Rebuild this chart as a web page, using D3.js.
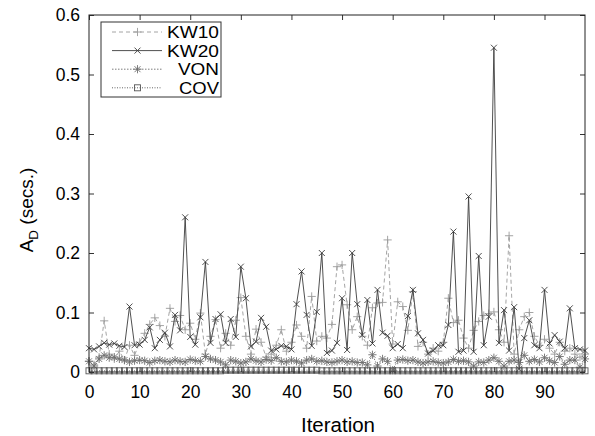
<!DOCTYPE html>
<html lang="en">
<head>
<meta charset="UTF-8">
<title>A_D per iteration</title>
<style>
  body { margin: 0; background: #fff; }
  text { font-family: "Liberation Sans", Arial, Helvetica, sans-serif; fill: #000; }
</style>
</head>
<body>
<script src="https://d3js.org/d3.v7.min.js"></script>
<script>
// values, one per iteration (0..98)
const kw10 = [0.018,0.012,0.025,0.086,0.030,0.022,0.035,0.020,0.045,0.028,
  0.050,0.065,0.080,0.091,0.078,0.060,0.107,0.085,0.095,0.071,
  0.082,0.055,0.099,0.030,0.060,0.088,0.040,0.065,0.045,0.087,
  0.125,0.060,0.030,0.072,0.050,0.025,0.030,0.045,0.071,0.035,
  0.050,0.079,0.060,0.040,0.127,0.052,0.060,0.057,0.080,0.177,
  0.180,0.113,0.071,0.093,0.060,0.045,0.108,0.116,0.117,0.222,
  0.047,0.118,0.110,0.070,0.135,0.043,0.050,0.030,0.040,0.035,
  0.050,0.124,0.083,0.087,0.057,0.040,0.070,0.085,0.095,0.098,
  0.101,0.071,0.050,0.229,0.030,0.071,0.093,0.100,0.060,0.045,
  0.055,0.040,0.030,0.050,0.035,0.040,0.030,0.025,0.030];
const kw20 = [0.040,0.038,0.043,0.049,0.046,0.048,0.044,0.042,0.110,0.045,
  0.046,0.054,0.075,0.040,0.054,0.066,0.043,0.096,0.070,0.260,
  0.059,0.046,0.092,0.185,0.049,0.089,0.097,0.049,0.089,0.059,
  0.177,0.124,0.043,0.051,0.091,0.076,0.036,0.038,0.044,0.043,
  0.038,0.114,0.169,0.096,0.044,0.101,0.200,0.032,0.036,0.049,
  0.124,0.037,0.200,0.114,0.062,0.121,0.048,0.138,0.066,0.061,
  0.040,0.047,0.040,0.094,0.138,0.065,0.054,0.031,0.036,0.045,
  0.045,0.079,0.236,0.034,0.036,0.295,0.034,0.195,0.045,0.093,
  0.545,0.049,0.104,0.036,0.109,0.005,0.057,0.087,0.045,0.040,
  0.138,0.048,0.062,0.051,0.040,0.107,0.040,0.038,0.036];
const von = [0.018,0.010,0.022,0.028,0.024,0.025,0.022,0.020,0.017,0.019,
  0.020,0.019,0.016,0.019,0.020,0.018,0.017,0.020,0.018,0.017,
  0.021,0.019,0.018,0.026,0.022,0.020,0.017,0.012,0.020,0.018,
  0.015,0.017,0.022,0.019,0.017,0.021,0.019,0.024,0.018,0.017,
  0.020,0.018,0.015,0.020,0.022,0.018,0.019,0.017,0.016,0.018,
  0.020,0.017,0.018,0.016,0.016,0.012,0.029,0.010,0.022,0.018,
  0.003,0.020,0.021,0.019,0.020,0.017,0.015,0.017,0.018,0.016,
  0.015,0.017,0.021,0.018,0.019,0.017,0.010,0.017,0.016,0.020,
  0.024,0.018,0.010,0.018,0.020,0.016,0.028,0.018,0.021,0.017,
  0.024,0.019,0.016,0.026,0.013,0.020,0.020,0.008,0.022];
const cov = [0.002,0.002,0.002,0.002,0.002,0.002,0.002,0.002,0.002,0.002,
  0.002,0.002,0.002,0.002,0.002,0.002,0.002,0.002,0.002,0.002,
  0.002,0.002,0.002,0.002,0.002,0.002,0.002,0.003,0.003,0.003,
  0.003,0.003,0.003,0.003,0.003,0.003,0.003,0.003,0.003,0.003,
  0.003,0.003,0.003,0.003,0.003,0.003,0.002,0.002,0.002,0.002,
  0.002,0.002,0.002,0.002,0.002,0.002,0.002,0.002,0.002,0.002,
  0.002,0.002,0.002,0.002,0.002,0.002,0.002,0.002,0.002,0.002,
  0.002,0.002,0.002,0.002,0.002,0.002,0.002,0.002,0.002,0.002,
  0.002,0.002,0.002,0.002,0.002,0.002,0.002,0.002,0.002,0.002,
  0.002,0.002,0.002,0.002,0.002,0.002,0.002,0.002,0.002];
const seriesNames = ["KW10", "KW20", "VON", "COV"];
const xTicks = [0, 10, 20, 30, 40, 50, 60, 70, 80, 90];
const yTicks = [0, 0.1, 0.2, 0.3, 0.4, 0.5, 0.6];

const W = 595, H = 436;
const L = 89, R = 585, T = 15, B = 372;

const svg = d3.select("body").append("svg")
  .attr("width", W).attr("height", H);

const x = d3.scaleLinear().domain([0, 98]).range([L, R]);
const y = d3.scaleLinear().domain([0, 0.6]).range([B, T]);

// styles per series
const styles = {
  KW10: { color: "#9a9a9a", dash: "4,3", mark: "plus", w: 52 },
  KW20: { color: "#3c3c3c", dash: null, mark: "cross", w: 52 },
  VON:  { color: "#6e6e6e", dash: "1.5,1.5", mark: "star", w: 41 },
  COV:  { color: "#555", dash: "1,1.5", mark: "box", w: 40 }
};
const data = { KW10: kw10, KW20: kw20, VON: von, COV: cov };

function marker(g, type, cx, cy, color) {
  const s = 3.6;
  const seg = (x1, y1, x2, y2) => g.append("line")
    .attr("x1", cx + x1).attr("y1", cy + y1).attr("x2", cx + x2).attr("y2", cy + y2)
    .attr("stroke", color).attr("stroke-width", 0.9);
  if (type === "plus" || type === "star") { seg(-s - 0.5, 0, s + 0.5, 0); seg(0, -s - 0.5, 0, s + 0.5); }
  if (type === "cross" || type === "star") { seg(-s + 0.6, -s + 0.6, s - 0.6, s - 0.6); seg(-s + 0.6, s - 0.6, s - 0.6, -s + 0.6); }
  if (type === "box") {
    g.append("rect").attr("x", cx - 3).attr("y", cy - 3).attr("width", 6).attr("height", 6)
      .attr("fill", "none").attr("stroke", color).attr("stroke-width", 0.9);
  }
}

// ticks (inward, mirrored)
const ax = svg.append("g").attr("class", "axes");
ax.append("g").attr("transform", `translate(0,${B})`)
  .call(d3.axisBottom(x).tickValues(xTicks).tickSizeInner(-5).tickSizeOuter(0).tickPadding(14).tickFormat(d3.format("d")));
ax.append("g").attr("transform", `translate(0,${T})`)
  .call(d3.axisTop(x).tickValues(xTicks).tickSizeInner(-5).tickSizeOuter(0).tickFormat(""));
ax.append("g").attr("transform", `translate(${L},0)`)
  .call(d3.axisLeft(y).tickValues(yTicks).tickSizeInner(-5).tickSizeOuter(0).tickPadding(9).tickFormat(d => d === 0 ? "0" : d3.format(".1f")(d)));
ax.append("g").attr("transform", `translate(${R},0)`)
  .call(d3.axisRight(y).tickValues(yTicks).tickSizeInner(-5).tickSizeOuter(0).tickFormat(""));
ax.selectAll(".domain").remove();
ax.selectAll(".tick line").attr("stroke", "#333");
ax.selectAll(".tick text").attr("font-size", 17.5).attr("font-family", "Liberation Sans, Arial, sans-serif").attr("fill", "#000");

// series
const line = d3.line().x((d, i) => x(i)).y(d => y(d));
seriesNames.forEach(name => {
  const st = styles[name];
  const g = svg.append("g");
  g.append("path").datum(data[name]).attr("d", line)
    .attr("fill", "none").attr("stroke", st.color).attr("stroke-width", 0.9)
    .attr("stroke-dasharray", st.dash);
  data[name].forEach((v, i) => marker(g, st.mark, x(i), y(v), st.color));
});

// frame
svg.append("rect").attr("x", L).attr("y", T).attr("width", R - L).attr("height", B - T)
  .attr("fill", "none").attr("stroke", "#222").attr("stroke-width", 1);

// legend
const lg = svg.append("g");
lg.append("rect").attr("x", 101).attr("y", 22).attr("width", 120).attr("height", 75)
  .attr("fill", "#fff").attr("stroke", "#333").attr("stroke-width", 1);
seriesNames.forEach((name, k) => {
  const st = styles[name];
  const yy = 32 + k * 18.6;
  lg.append("line").attr("x1", 112).attr("x2", 162).attr("y1", yy).attr("y2", yy)
    .attr("stroke", st.color).attr("stroke-width", 0.9).attr("stroke-dasharray", st.dash);
  marker(lg, st.mark, 137.5, yy, st.color);
  lg.append("text").attr("x", 219).attr("y", yy + 6).attr("text-anchor", "end")
    .attr("font-size", 16).attr("textLength", st.w).attr("lengthAdjust", "spacingAndGlyphs")
    .text(name);
});

// axis titles
svg.append("text").attr("x", 338).attr("y", 432).attr("text-anchor", "middle")
  .attr("font-size", 20.5).text("Iteration");
const yl = svg.append("text").attr("transform", "translate(33,210) rotate(-90)")
  .attr("text-anchor", "middle").attr("font-size", 19);
yl.append("tspan").text("A");
yl.append("tspan").attr("font-size", 13.5).attr("dy", 5).text("D");
yl.append("tspan").attr("dy", -5).text(" (secs.)");
</script>
</body>
</html>
